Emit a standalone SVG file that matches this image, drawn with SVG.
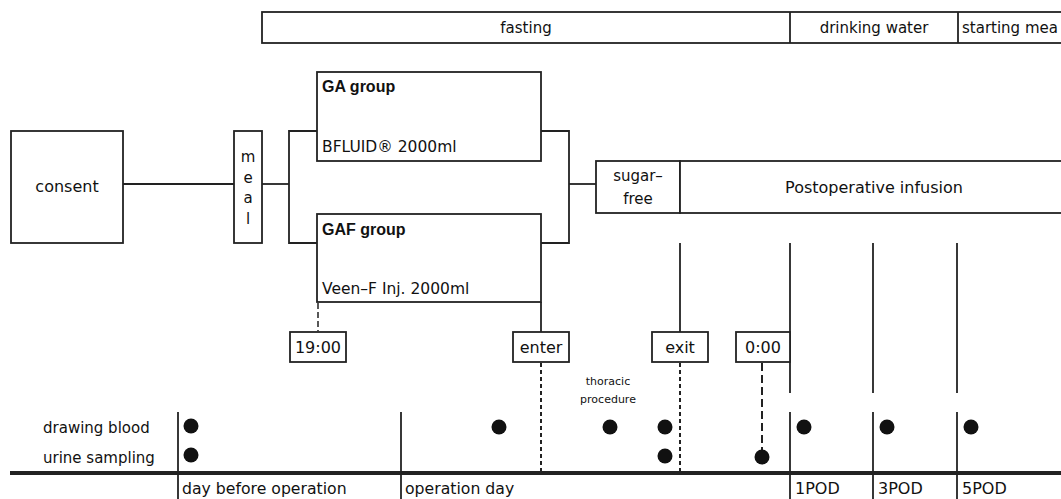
<svg xmlns="http://www.w3.org/2000/svg" width="1061" height="499" viewBox="0 0 1061 499">
<style>
text{font-family:"DejaVu Sans","Liberation Sans",sans-serif;fill:#111;}
.box{fill:#fff;stroke:#222;stroke-width:1.8;}
.ln{fill:none;stroke:#222;stroke-width:1.8;}
.dot{fill:#111;}
.dotted{fill:none;stroke:#222;stroke-width:2;stroke-dasharray:4 3;}
.dashed{fill:none;stroke:#222;stroke-width:2;stroke-dasharray:8 4;}
.t15{font-size:15px;}
.t16{font-size:16px;}
.c{text-anchor:middle;}
.b{font-family:"Liberation Sans",Arial,sans-serif;font-weight:bold;font-size:16px;}
</style>
<rect width="1061" height="499" fill="#fff"/>

<g id="phases">
<rect class="box" x="262" y="12" width="810" height="31"/>
<line class="ln" x1="790" y1="12" x2="790" y2="43"/>
<line class="ln" x1="958" y1="12" x2="958" y2="43"/>
<text class="t15 c" x="526" y="33">fasting</text>
<text class="t15 c" x="874" y="33">drinking water</text>
<text class="t15" x="962" y="33">starting mea</text>
</g>

<g id="connectors">
<line class="ln" x1="123" y1="184" x2="234" y2="184"/>
<line class="ln" x1="262" y1="184" x2="289" y2="184"/>
<polyline class="ln" points="317,131 289,131 289,243 317,243"/>
<polyline class="ln" points="541,131 569,131 569,243 541,243"/>
<line class="ln" x1="569" y1="184" x2="596" y2="184"/>
<line class="ln" x1="541" y1="302" x2="541" y2="332"/>
<line class="ln" x1="680" y1="243" x2="680" y2="332"/>
<line class="dashed" x1="318" y1="303" x2="318" y2="331" style="stroke-dasharray:6 3;stroke-width:1.5"/>
<line class="dotted" x1="541" y1="363" x2="541" y2="471"/>
<line class="dotted" x1="680" y1="363" x2="680" y2="471"/>
<line class="dashed" x1="762" y1="363" x2="762" y2="450"/>
<line class="ln" x1="790" y1="243" x2="790" y2="393"/>
<line class="ln" x1="873" y1="243" x2="873" y2="393"/>
<line class="ln" x1="957" y1="243" x2="957" y2="393"/>
</g>

<g id="consent">
<rect class="box" x="11" y="131" width="112" height="112"/>
<text class="t16 c" x="67" y="192">consent</text>
</g>

<g id="meal">
<rect class="box" x="234" y="131" width="28" height="112"/>
<text class="t15 c" x="248" y="162">m</text>
<text class="t15 c" x="248" y="183">e</text>
<text class="t15 c" x="248" y="203">a</text>
<text class="t15 c" x="248" y="224">l</text>
</g>

<g id="ga-group">
<rect class="box" x="317" y="72" width="224" height="89"/>
<text class="b" x="322" y="92">GA group</text>
<text class="t15" x="322" y="152" style="font-size:15.5px">BFLUID® 2000ml</text>
</g>

<g id="gaf-group">
<rect class="box" x="317" y="214" width="224" height="88"/>
<text class="b" x="322" y="235">GAF group</text>
<text class="t15" x="322" y="294" style="font-size:15.5px">Veen–F Inj. 2000ml</text>
</g>

<g id="sugar-free">
<rect class="box" x="596" y="161" width="84" height="52"/>
<text class="t15 c" x="638" y="181">sugar–</text>
<text class="t15 c" x="638" y="204">free</text>
</g>

<g id="postoperative-infusion">
<rect class="box" x="680" y="161" width="392" height="52"/>
<text class="t16 c" x="874" y="193">Postoperative infusion</text>
</g>

<g id="t1900">
<rect class="box" x="290" y="332" width="56" height="30"/>
<text class="t16 c" x="318" y="353">19:00</text>
</g>
<g id="enter">
<rect class="box" x="513" y="332" width="56" height="30"/>
<text class="t16 c" x="541" y="353">enter</text>
</g>
<g id="exit">
<rect class="box" x="652" y="332" width="56" height="30"/>
<text class="t16 c" x="680" y="353">exit</text>
</g>
<g id="t000">
<rect class="box" x="736" y="332" width="54" height="30"/>
<text class="t16 c" x="763" y="353">0:00</text>
</g>

<g id="thoracic-procedure">
<text class="c" x="608" y="385" style="font-size:11px">thoracic</text>
<text class="c" x="608" y="403" style="font-size:11px">procedure</text>
</g>

<g id="timeline">
<line class="ln" x1="10" y1="473" x2="1061" y2="473" style="stroke-width:4"/>
<line class="ln" x1="178" y1="412" x2="178" y2="499"/>
<line class="ln" x1="401" y1="412" x2="401" y2="499"/>
<line class="ln" x1="790" y1="412" x2="790" y2="499"/>
<line class="ln" x1="873" y1="412" x2="873" y2="499"/>
<line class="ln" x1="957" y1="412" x2="957" y2="499"/>
<text class="t15" x="43" y="433">drawing blood</text>
<text class="t15" x="43" y="463">urine sampling</text>
<text class="t16" x="182" y="494" style="font-size:15.7px">day before operation</text>
<text class="t16" x="405" y="494" style="font-size:15.7px">operation day</text>
<text class="t16" x="795" y="494">1POD</text>
<text class="t16" x="878" y="494">3POD</text>
<text class="t16" x="962" y="494">5POD</text>
</g>

<g id="samples">
<circle class="dot" cx="191" cy="426" r="7.5"/>
<circle class="dot" cx="191" cy="455" r="7.5"/>
<circle class="dot" cx="499" cy="427" r="7.5"/>
<circle class="dot" cx="610" cy="427" r="7.5"/>
<circle class="dot" cx="665" cy="427" r="7.5"/>
<circle class="dot" cx="665" cy="456" r="7.5"/>
<circle class="dot" cx="762" cy="457" r="7.5"/>
<circle class="dot" cx="804" cy="427" r="7.5"/>
<circle class="dot" cx="887" cy="427" r="7.5"/>
<circle class="dot" cx="971" cy="427" r="7.5"/>
</g>
</svg>
